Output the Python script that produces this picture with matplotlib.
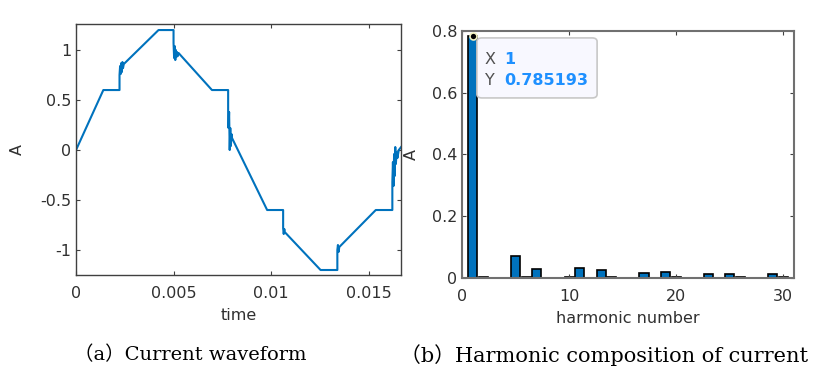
import numpy as np
import matplotlib
matplotlib.use("Agg")
import matplotlib.pyplot as plt
from matplotlib.patches import FancyBboxPatch

# ---- data: current waveform (a) ---------------------------------------------
wave_t = [0.0, 0.0014, 0.00223, 0.00223, 0.00226, 0.00229, 0.00232, 0.00235,
          0.00238, 0.00241, 0.00245, 0.00423, 0.0050, 0.0050, 0.00503,
          0.00506, 0.00509, 0.00512, 0.00515, 0.00518, 0.00522, 0.00526,
          0.00697, 0.0078, 0.0078, 0.00782, 0.00785, 0.00788, 0.00791,
          0.00794, 0.00797, 0.0080, 0.0098, 0.01062, 0.01062, 0.01065,
          0.01068, 0.0107, 0.01254, 0.0134, 0.0134, 0.01343, 0.01346,
          0.0135, 0.01537, 0.01622, 0.01622, 0.01625, 0.01628, 0.01631,
          0.01634, 0.01637, 0.0164, 0.01644, 0.01648, 0.01655, 0.01667]
wave_i = [0.0, 0.6, 0.6, 0.75, 0.84, 0.76, 0.87, 0.78, 0.88, 0.82, 0.86,
          1.2, 1.2, 1.07, 0.92, 1.04, 0.90, 1.0, 0.93, 0.98, 0.94, 0.97,
          0.6, 0.6, 0.36, 0.22, 0.38, 0.0, 0.22, 0.04, 0.16, 0.12, -0.6,
          -0.6, -0.78, -0.84, -0.79, -0.82, -1.2, -1.2, -1.0, -0.95, -1.02,
          -0.97, -0.6, -0.6, -0.32, -0.12, -0.36, -0.04, -0.26, 0.03,
          -0.14, -0.02, -0.08, 0.0, 0.03]

# ---- data: harmonic spectrum (b) --------------------------------------------
harm_n = [1, 2, 5, 6, 7, 10, 11, 13, 14, 17, 19, 20, 23, 25, 26, 29, 30]
harm_a = [0.785193, 0.002, 0.072, 0.002, 0.029, 0.003, 0.032, 0.025, 0.002,
          0.017, 0.019, 0.003, 0.012, 0.013, 0.002, 0.012, 0.003]

wave_xticks = [0, 0.005, 0.01, 0.015]
wave_xlabels = ["0", "0.005", "0.01", "0.015"]
wave_yticks = [-1, -0.5, 0, 0.5, 1]
wave_ylabels = ["-1", "-0.5", "0", "0.5", "1"]
harm_xticks = [0, 10, 20, 30]
harm_yticks = [0, 0.2, 0.4, 0.6, 0.8]
harm_ylabels = ["0", "0.2", "0.4", "0.6", "0.8"]

tip_x, tip_y = 1, 0.785193

MBLUE = "#0072BD"
TXT = "#303030"
FRAME = "#404040"
FS = 11.5

plt.rcParams["font.family"] = ["DejaVu Sans"]

fig = plt.figure(figsize=(8.30, 3.74), dpi=100)
fig.patch.set_facecolor("white")


def StyleAxes(ax):
    """ MATLAB-like box: ticks inside, on all four sides. """
    for s in ax.spines.values():
        s.set_color(FRAME)
        s.set_linewidth(1.0)
    ax.tick_params(direction="in", length=3, width=0.8, colors=FRAME,
                   labelcolor=TXT, labelsize=FS, top=True, right=True)


# (a) Current waveform
ax1 = fig.add_axes([0.0916, 0.2647, 0.3916, 0.671])
ax1.plot(wave_t, wave_i, color=MBLUE, lw=1.5)
ax1.set_xlim(0, 1.0 / 60)
ax1.set_ylim(-1.25, 1.26)
ax1.set_xticks(wave_xticks)
ax1.set_xticklabels(wave_xlabels)
ax1.set_yticks(wave_yticks)
ax1.set_yticklabels(wave_ylabels)
StyleAxes(ax1)
ax1.tick_params(axis="x", pad=8)
ax1.set_xlabel("time", fontsize=FS, color=TXT, labelpad=5)
ax1.set_ylabel("A", fontsize=FS, color=TXT)
ax1.yaxis.set_label_coords(-0.157, 0.5)

# (b) Harmonic composition
ax2 = fig.add_axes([0.5566, 0.2567, 0.4, 0.6604])
ax2.bar(harm_n, harm_a, width=0.85, color=MBLUE, edgecolor="black",
        linewidth=1.2)
ax2.set_xlim(0, 31)
ax2.set_ylim(0, 0.8)
ax2.set_xticks(harm_xticks)
ax2.set_yticks(harm_yticks)
ax2.set_yticklabels(harm_ylabels)
StyleAxes(ax2)
ax2.tick_params(axis="x", pad=8)
for s in ax2.spines.values():
    s.set_color("#707070")
    s.set_linewidth(1.5)
ax2.set_xlabel("harmonic number", fontsize=FS, color=TXT, labelpad=5)
ax2.set_ylabel("A", fontsize=FS, color=TXT)
ax2.yaxis.set_label_coords(-0.13, 0.5)

# data tip
ax2.plot([tip_x], [tip_y], "o", ms=5, mfc="black", mec="#F0F0C0", mew=1.2,
         zorder=5, clip_on=False)
box = FancyBboxPatch((0.045, 0.729), 0.362, 0.243, transform=ax2.transAxes,
                     boxstyle="round,pad=0,rounding_size=0.015",
                     facecolor="#F8F8FF", edgecolor="#C8C8C8", lw=1.2,
                     zorder=6)
ax2.add_patch(box)
tip_fs = 11.5
ax2.text(0.069, 0.883, "X", transform=ax2.transAxes, fontsize=tip_fs,
         color="#505050", va="center", zorder=7)
ax2.text(0.128, 0.883, "%d" % tip_x, transform=ax2.transAxes, fontsize=tip_fs,
         color="#1E90FF", fontweight="bold", va="center", zorder=7)
ax2.text(0.069, 0.798, "Y", transform=ax2.transAxes, fontsize=tip_fs,
         color="#505050", va="center", zorder=7)
ax2.text(0.128, 0.798, "%.6f" % tip_y, transform=ax2.transAxes,
         fontsize=tip_fs, color="#1E90FF", fontweight="bold", va="center",
         zorder=7)

# captions
cap_font = ["DejaVu Serif", "Noto Sans CJK KR"]
fig.text(0.2295, 0.051, "（a）Current waveform", ha="center", va="center",
         fontsize=14, family=cap_font, color="black")
fig.text(0.728, 0.051, "（b）Harmonic composition of current", ha="center",
         va="center", fontsize=15, family=cap_font, color="black")

plt.savefig("out.png", dpi=100)
